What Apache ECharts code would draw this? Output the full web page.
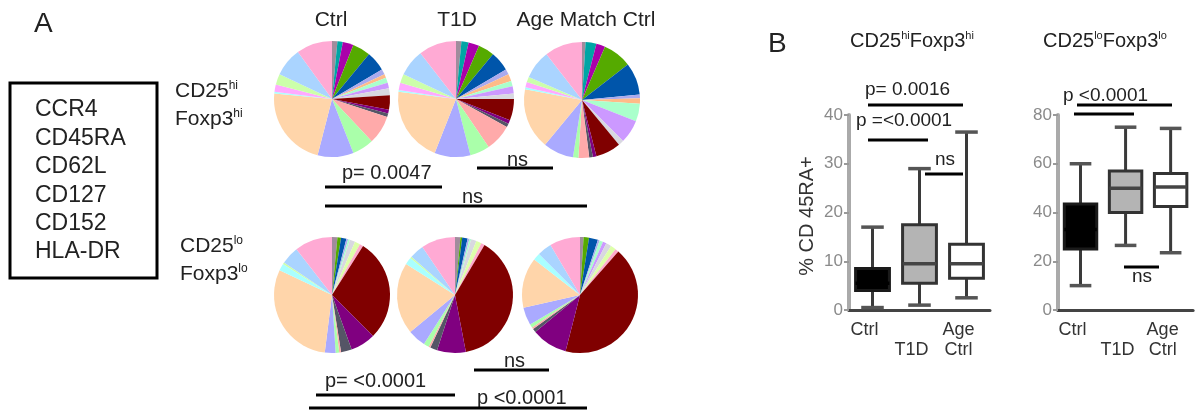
<!DOCTYPE html>
<html>
<head>
<meta charset="utf-8">
<script src="https://cdn.jsdelivr.net/npm/echarts@6/dist/echarts.min.js"></script>
<style>
  html, body { margin: 0; padding: 0; background: #fff; }
  #chart { width: 1197px; height: 410px; }
</style>
</head>
<body>
<div id="chart"></div>
<script>
const FONT = '"Liberation Sans", Arial, sans-serif';

// ---- Panel A: SPICE pies, slice order is identical in every pie ----
const sliceColors = [
  '#a08c9c', '#00a5a5', '#aa00aa', '#55aa00', '#0055aa',
  '#aaaaee', '#ffbb88', '#aaffcc', '#cc99ff', '#d8d8e0',
  '#ddffaa', '#ffaacc', '#800000', '#800080', '#555566',
  '#ffaaaa', '#aaffaa', '#aaaaff', '#ffd5aa', '#aaffff',
  '#ffaaff', '#ccffaa', '#aad4ff', '#ffaad4'
];
const pieColumns = ['Ctrl', 'T1D', 'Age Match Ctrl'];
// CD25hi Foxp3hi (% of cells per phenotype combination)
const hiCtrl = [1.5, 1.5, 3, 5, 5.5, 1.5, 1, 1.5, 1.5, 2, 0, 0, 4, 1, 1, 8, 6, 10, 22.5, 0.5, 2, 3, 8, 10];
const hiT1D  = [1.5, 2, 3, 4.5, 5.5, 1.5, 2, 1.5, 2, 1.5, 0, 0, 6, 1, 1, 7.5, 5.5, 10, 21, 0.5, 2, 2.5, 7.5, 10.5];
const hiAge  = [1, 3, 2.5, 8, 9, 1, 1.5, 5, 6.5, 1.5, 0, 0, 7, 1, 1, 3, 1.5, 8.5, 17, 0.5, 1.5, 1.5, 8, 10.5];
// CD25lo Foxp3lo
const loCtrl = [1.5, 0, 0, 1, 1.5, 0.5, 0, 0.5, 0, 1.5, 1.5, 1, 28.5, 7, 3, 0.5, 1, 3, 30, 2, 0, 0.5, 5, 10.5];
const loT1D  = [1.5, 0, 0, 0.5, 1.5, 0.5, 0, 0.5, 0, 1.5, 1.5, 1, 38.5, 8, 2, 0.5, 1.5, 5, 20, 2, 0, 0.5, 4, 9.5];
const loAge  = [1, 0, 0, 1.5, 2.5, 0.5, 0, 1, 1, 1.5, 1.5, 1, 42.5, 10, 1, 0.5, 1, 5, 14, 2, 0, 0, 4, 8.5];

const markerList = ['CCR4', 'CD45RA', 'CD62L', 'CD127', 'CD152', 'HLA-DR'];

// ---- Panel B: % CD45RA+ box plots, [min, Q1, median, Q3, max] ----
const boxCategories = ['Ctrl', 'T1D', 'Age Ctrl'];
const boxTickLabels = ['Ctrl', '\nT1D', 'Age\nCtrl'];
const cd45raHi = [
  [0.5, 4, 5.5, 8.5, 17],
  [1, 5.5, 9.5, 17.5, 29],
  [2.5, 6.5, 9.5, 13.5, 36.5]
];
const cd45raLo = [
  [10, 25, 33, 43.5, 60],
  [26.5, 40, 50, 57, 75],
  [23.5, 42.5, 50.5, 56, 74.5]
];
const yRangeHi = [0, 40, 10];
const yRangeLo = [0, 80, 20];

// ---------------------------------------------------------------
const chart = echarts.init(document.getElementById('chart'), null, { renderer: 'canvas' });

function pieSeries(values, center) {
  return {
    type: 'pie',
    silent: true,
    center: center,
    radius: 58,
    startAngle: 90,
    clockwise: true,
    avoidLabelOverlap: false,
    label: { show: false },
    labelLine: { show: false },
    itemStyle: { borderWidth: 0 },
    data: values.map((v, i) => ({ name: 's' + i, value: v, itemStyle: { color: sliceColors[i] } }))
  };
}

const boxStyles = [
  { fill: '#000000', stroke: '#1a1a1a', median: '#000000' },
  { fill: '#b4b4b4', stroke: '#333333', median: '#444444' },
  { fill: '#ffffff', stroke: '#333333', median: '#444444' }
];

function renderBox(params, api) {
  const idx = api.value(0);
  const cx = api.coord([idx, 0])[0];
  const y = v => api.coord([idx, v])[1];
  const band = api.size([1, 0])[0];
  const hw = band * 0.36;
  const cap = band * 0.24;
  const st = boxStyles[idx];
  const yMin = y(api.value(1)), yQ1 = y(api.value(2)), yMed = y(api.value(3)),
        yQ3 = y(api.value(4)), yMax = y(api.value(5));
  const wl = { stroke: '#3a3a3a', lineWidth: 3 };
  return {
    type: 'group',
    children: [
      { type: 'line', shape: { x1: cx, y1: yMax, x2: cx, y2: yQ3 }, style: wl },
      { type: 'line', shape: { x1: cx, y1: yQ1, x2: cx, y2: yMin }, style: wl },
      { type: 'line', shape: { x1: cx - cap, y1: yMax, x2: cx + cap, y2: yMax }, style: { stroke: '#555', lineWidth: 3.5 } },
      { type: 'line', shape: { x1: cx - cap, y1: yMin, x2: cx + cap, y2: yMin }, style: { stroke: '#555', lineWidth: 3.5 } },
      { type: 'rect', shape: { x: cx - hw, y: yQ3, width: hw * 2, height: yQ1 - yQ3 },
        style: { fill: st.fill, stroke: st.stroke, lineWidth: 3 } },
      { type: 'line', shape: { x1: cx - hw, y1: yMed, x2: cx + hw, y2: yMed }, style: { stroke: st.median, lineWidth: 3.5 } }
    ]
  };
}

function boxXAxis(gridIndex) {
  return {
    type: 'category', gridIndex: gridIndex, data: boxCategories,
    axisLine: { lineStyle: { color: '#444', width: 3 } },
    axisTick: { alignWithLabel: true, length: 4, lineStyle: { color: '#666', width: 2 } },
    axisLabel: {
      interval: 0, hideOverlap: false,
      margin: 10, color: '#333', fontFamily: FONT, fontSize: 18, lineHeight: 20,
      formatter: (v, i) => '{t|' + boxTickLabels[i].split('\n').join('}\n{t|') + '}',
      rich: { t: { fontFamily: FONT, fontSize: 18, lineHeight: 20, color: '#333', padding: [0, 16, 0, 0] } }
    },
    splitLine: { show: false }
  };
}

function boxYAxis(gridIndex, range) {
  return {
    type: 'value', gridIndex: gridIndex, min: range[0], max: range[1], interval: range[2],
    axisLine: { show: true, lineStyle: { color: '#aaaaaa', width: 4 } },
    axisTick: { show: true, length: 5, lineStyle: { color: '#999', width: 2 } },
    axisLabel: { color: '#8a8a8a', fontFamily: FONT, fontSize: 17, margin: 6 },
    splitLine: { show: false }
  };
}

function boxSeries(stats, axisIndex) {
  return {
    type: 'custom', xAxisIndex: axisIndex, yAxisIndex: axisIndex, silent: true,
    renderItem: renderBox,
    encode: { x: 0, y: [1, 2, 3, 4, 5] },
    data: stats.map((s, i) => [i].concat(s))
  };
}

// ---- text and significance bars ----
const TXT = '#222';
function txt(x, y, text, size, align) {
  return {
    type: 'text', x: x, y: y, silent: true,
    style: { text: text, fill: TXT, font: size + 'px ' + FONT, textAlign: align || 'left', textVerticalAlign: 'middle' }
  };
}
function richTxt(x, y, text, size, supSize) {
  return {
    type: 'text', x: x, y: y, silent: true,
    style: {
      text: text, fill: TXT, textAlign: 'left', textVerticalAlign: 'middle',
      rich: {
        a: { fontFamily: FONT, fontSize: size, fill: TXT, lineHeight: size + 2 },
        s: { fontFamily: FONT, fontSize: supSize, fill: TXT, verticalAlign: 'top', lineHeight: size + 2 }
      }
    }
  };
}
function bar(x1, x2, y) {
  return { type: 'line', silent: true, shape: { x1: x1, y1: y, x2: x2, y2: y }, style: { stroke: '#000', lineWidth: 3 } };
}

const graphics = [
  txt(34, 24, 'A', 28),
  { type: 'rect', silent: true, shape: { x: 10, y: 83, width: 147, height: 195 }, style: { fill: 'none', stroke: '#000', lineWidth: 3 } },
  ...markerList.map((m, i) => txt(35, 110 + i * 28.4, m, 23)),
  ...pieColumns.map((c, i) => txt([331, 457, 586][i], 20, c, 21, 'center')),
  richTxt(175, 91, '{a|CD25}{s|hi}', 21, 12),
  richTxt(175, 119, '{a|Foxp3}{s|hi}', 21, 12),
  richTxt(180, 246, '{a|CD25}{s|lo}', 21, 12),
  richTxt(180, 274, '{a|Foxp3}{s|lo}', 21, 12),

  txt(342, 173, 'p= 0.0047', 20), bar(325, 442, 187),
  txt(507, 160, 'ns', 20), bar(477, 553, 168),
  txt(462, 197, 'ns', 20), bar(325, 587, 206),
  txt(325, 381, 'p= <0.0001', 20), bar(316, 455, 395),
  txt(504, 361, 'ns', 20), bar(474, 549, 370),
  txt(477, 398, 'p <0.0001', 20), bar(309, 587, 408),

  txt(768, 44, 'B', 28),
  richTxt(850, 41, '{a|CD25}{s|hi}{a|Foxp3}{s|hi}', 20, 11),
  richTxt(1043, 41, '{a|CD25}{s|lo}{a|Foxp3}{s|lo}', 20, 11),
  { type: 'text', silent: true, x: 807, y: 216, rotation: Math.PI / 2,
    style: { text: '% CD 45RA+', fill: '#333', font: '20px ' + FONT, textAlign: 'center', textVerticalAlign: 'middle' } },

  txt(865, 90, 'p= 0.0016', 19), bar(868, 963, 105),
  txt(856, 121, 'p =<0.0001', 19), bar(868, 928, 140),
  txt(935, 160, 'ns', 19), bar(925, 963, 174),
  txt(1063, 96, 'p <0.0001', 19), bar(1077, 1172, 105), bar(1074, 1134, 114),
  txt(1132, 277, 'ns', 19), bar(1124, 1159, 267)
];

const option = {
  animation: false,
  backgroundColor: '#ffffff',
  textStyle: { fontFamily: FONT },
  grid: [
    { left: 849, top: 115, width: 141, height: 195 },
    { left: 1058, top: 115, width: 139, height: 195 }
  ],
  xAxis: [boxXAxis(0), boxXAxis(1)],
  yAxis: [boxYAxis(0, yRangeHi), boxYAxis(1, yRangeLo)],
  series: [
    pieSeries(hiCtrl, [332, 99]),
    pieSeries(hiT1D, [456, 99]),
    pieSeries(hiAge, [582, 100]),
    pieSeries(loCtrl, [332, 295]),
    pieSeries(loT1D, [455, 295]),
    pieSeries(loAge, [580, 295]),
    boxSeries(cd45raHi, 0),
    boxSeries(cd45raLo, 1)
  ],
  graphic: graphics
};
chart.setOption(option);
</script>
</body>
</html>
